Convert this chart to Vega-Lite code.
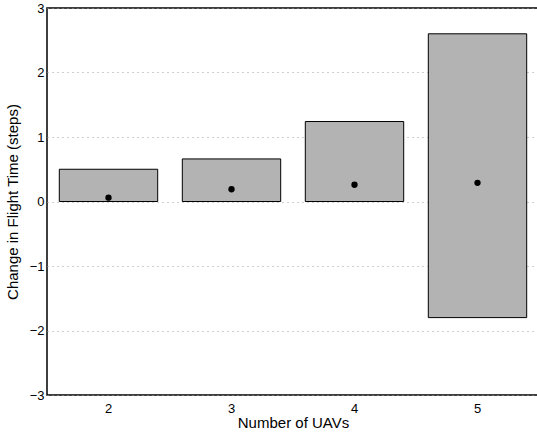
{
  "$schema": "https://vega.github.io/schema/vega-lite/v6.json",
  "width": 492,
  "height": 387,
  "autosize": {"type": "none"},
  "padding": {"left": 47, "top": 8, "right": 0, "bottom": 43},
  "background": "white",
  "config": {
    "font": "Liberation Sans",
    "view": {"stroke": "black", "strokeWidth": 1.5},
    "axis": {
      "domain": false,
      "ticks": false,
      "tickSize": 0,
      "labelFont": "Liberation Sans",
      "titleFont": "Liberation Sans",
      "labelFontSize": 13,
      "titleFontSize": 15,
      "labelColor": "black",
      "titleColor": "black",
      "titleFontWeight": "normal"
    }
  },
  "data": {
    "values": [
      {"uavs": "2", "low": 0, "high": 0.5, "mean": 0.06},
      {"uavs": "3", "low": 0, "high": 0.66, "mean": 0.19},
      {"uavs": "4", "low": 0, "high": 1.24, "mean": 0.26},
      {"uavs": "5", "low": -1.8, "high": 2.6, "mean": 0.29}
    ]
  },
  "encoding": {
    "x": {
      "field": "uavs",
      "type": "ordinal",
      "scale": {"paddingInner": 0.2, "paddingOuter": 0.1},
      "axis": {
        "title": "Number of UAVs",
        "labelAngle": 0,
        "labelPadding": 7,
        "titlePadding": 0,
        "grid": false
      }
    }
  },
  "layer": [
    {
      "mark": {"type": "bar", "fill": "#b3b3b3", "stroke": "black", "strokeWidth": 1},
      "encoding": {
        "y": {
          "field": "low",
          "type": "quantitative",
          "scale": {"domain": [-3, 3], "nice": false},
          "axis": {
            "title": "Change in Flight Time (steps)",
            "values": [-3, -2, -1, 0, 1, 2, 3],
            "labelExpr": "datum.value < 0 ? '\u2212' + format(-datum.value, 'd') : format(datum.value, 'd')",
            "labelPadding": 3,
            "titlePadding": 9,
            "grid": true,
            "gridColor": "#a0a0a0",
            "gridDash": [1, 4],
            "gridWidth": 1
          }
        },
        "y2": {"field": "high"}
      }
    },
    {
      "mark": {"type": "point", "shape": "circle", "filled": true, "color": "black", "opacity": 1, "size": 40},
      "encoding": {
        "y": {"field": "mean", "type": "quantitative"}
      }
    }
  ]
}
